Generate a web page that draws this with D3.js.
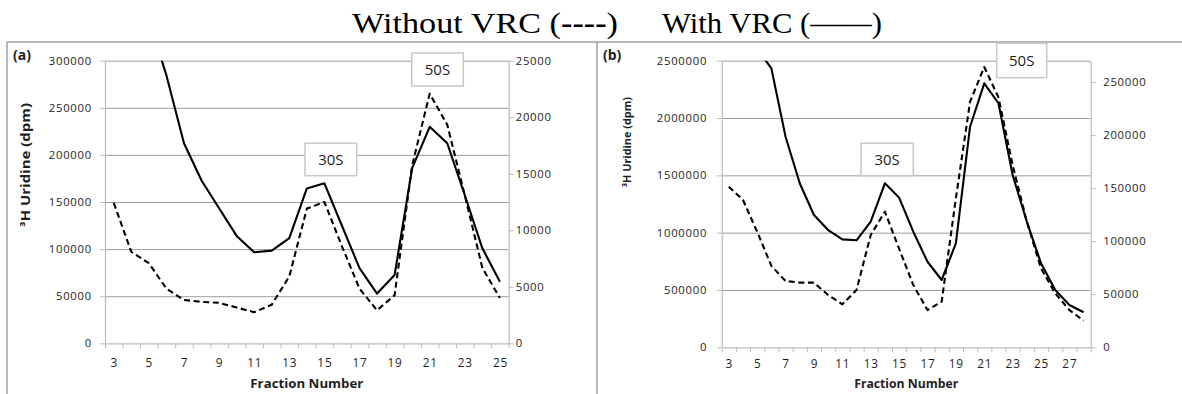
<!DOCTYPE html>
<html><head><meta charset="utf-8">
<script src="https://cdn.jsdelivr.net/npm/d3@7"></script>
<style>
body{margin:0;background:#fff}
svg{display:block}
</style></head><body>
<svg id="chart" width="1182" height="394"></svg>
<script>
// ---------- data ----------
const fractionsA = [3,4,5,6,7,8,9,10,11,12,13,14,15,16,17,18,19,20,21,22,23,24,25];
const withoutVrcA = [149000,97000,85000,58000,46000,44000,43000,38000,33000,41000,71000,143000,150000,103000,58000,35000,51000,189000,265000,232000,157000,80000,48000];
const withVrcA = [null,null,28700,23700,17700,14400,11950,9500,8050,8200,9300,13700,14150,10400,6650,4400,6050,15500,19150,17700,13100,8400,5450];
const leftTicksA = [0,50000,100000,150000,200000,250000,300000];
const rightTicksA = [0,5000,10000,15000,20000,25000];
const xLabelsA = [3,5,7,9,11,13,15,17,19,21,23,25];

const fractionsB = [3,4,5,6,7,8,9,10,11,12,13,14,15,16,17,18,19,20,21,22,23,24,25,26,27,28];
const withoutVrcB = [1401000,1285000,1008000,710000,578000,564000,564000,456000,375000,500000,980000,1183000,860000,543000,325000,398000,1300000,2142000,2445000,2180000,1590000,1096000,689000,471000,325000,232000];
const withVrcB = [null,null,281000,262800,198400,154500,124600,110500,101700,100800,118300,154500,141000,108900,80600,63400,98000,207800,248700,229900,162300,118300,79100,54000,39900,33000];
const leftTicksB = [0,500000,1000000,1500000,2000000,2500000];
const rightTicksB = [0,50000,100000,150000,200000,250000];
const xLabelsB = [3,5,7,9,11,13,15,17,19,21,23,25,27];

const peakNames = ["30S","50S"];
const titleParts = ["Without VRC (", "----", ")", "With VRC (——)"];
const yTitle = "³H Uridine (dpm)";
const xTitle = "Fraction Number";
const panelTags = ["(a)","(b)"];

// ---------- drawing ----------
const svg = d3.select("#chart");
const FONT = "'Open Sans', 'Liberation Sans', sans-serif";
const GRID = "#9d9d9d", AXIS = "#bcbcbc", TXT = "#1e1e1e";

// frame lines
svg.append("line").attr("x1",7).attr("x2",1182).attr("y1",42).attr("y2",42).attr("stroke","#a0a0a0").attr("stroke-width",1.5);
svg.append("line").attr("x1",7).attr("x2",7).attr("y1",42).attr("y2",394).attr("stroke","#a0a0a0").attr("stroke-width",1.5);
svg.append("line").attr("x1",597).attr("x2",597).attr("y1",42).attr("y2",394).attr("stroke","#a0a0a0").attr("stroke-width",1.5);

// title
const t1 = svg.append("text").attr("x",352).attr("y",33)
  .attr("font-family","'Liberation Serif','Times New Roman',serif").attr("font-size",29).attr("fill","#000")
  .attr("textLength",266).attr("lengthAdjust","spacingAndGlyphs");
t1.append("tspan").text(titleParts[0]);
t1.append("tspan").attr("font-weight","bold").text(titleParts[1]);
t1.append("tspan").text(titleParts[2]);
svg.append("text").attr("x",662).attr("y",33)
  .attr("font-family","'Liberation Serif','Times New Roman',serif").attr("font-size",29).attr("fill","#000")
  .attr("textLength",220).attr("lengthAdjust","spacingAndGlyphs")
  .text(titleParts[3]);

function drawPanel(cfg){
  const g = svg.append("g");
  const fr = cfg.fractions;
  const x = d3.scaleLinear().domain([fr[0]-0.5, fr[fr.length-1]+0.5]).range([cfg.x0, cfg.x1]);
  const yL = d3.scaleLinear().domain([0, cfg.leftMax]).range([cfg.yBot, cfg.yTop]);
  const yR = d3.scaleLinear().domain([0, cfg.rightMax]).range([cfg.yBot, cfg.yTop]);
  const w = cfg.x1 - cfg.x0;

  // gridlines
  const grid = g.append("g").attr("transform",`translate(${cfg.x0},0)`)
    .call(d3.axisLeft(yL).tickValues(cfg.leftTicks.filter(v=>v>0)).tickSize(-w).tickFormat(""));
  grid.select(".domain").remove();
  grid.selectAll("line").attr("stroke",GRID).attr("stroke-width",1);

  // left axis
  const la = g.append("g").attr("transform",`translate(${cfg.x0},0)`)
    .call(d3.axisLeft(yL).tickValues(cfg.leftTicks).tickSize(5).tickPadding(cfg.lPad).tickFormat(d3.format("d")).tickSizeOuter(0));
  la.select(".domain").attr("stroke",AXIS).attr("stroke-width",1.2);
  la.selectAll("line").attr("stroke",AXIS);
  la.selectAll("text").attr("font-family",FONT).attr("font-size",11.3).attr("letter-spacing",0.75).attr("fill",TXT);

  // right axis
  const ra = g.append("g").attr("transform",`translate(${cfg.x1},0)`)
    .call(d3.axisRight(yR).tickValues(cfg.rightTicks).tickSize(5).tickPadding(cfg.rPad).tickFormat(d3.format("d")).tickSizeOuter(0));
  ra.select(".domain").attr("stroke",AXIS).attr("stroke-width",1.2);
  ra.selectAll("line").attr("stroke",AXIS);
  ra.selectAll("text").attr("font-family",FONT).attr("font-size",11.3).attr("letter-spacing",0.75).attr("fill",TXT);

  // bottom axis: tick marks at category boundaries
  const bounds = fr.map(f=>f-0.5).concat([fr[fr.length-1]+0.5]);
  const ba = g.append("g").attr("transform",`translate(0,${cfg.yBot})`)
    .call(d3.axisBottom(x).tickValues(bounds).tickSize(5).tickFormat("").tickSizeOuter(0));
  ba.select(".domain").attr("stroke",AXIS).attr("stroke-width",1.2);
  ba.selectAll("line").attr("stroke",AXIS);
  // bottom labels at category centres
  const bl = g.append("g").attr("transform",`translate(0,${cfg.yBot})`)
    .call(d3.axisBottom(x).tickValues(cfg.xLabels).tickSize(0).tickPadding(cfg.bPad).tickFormat(d3.format("d")));
  bl.select(".domain").remove();
  bl.selectAll("text").attr("font-family",FONT).attr("font-size",11.8).attr("letter-spacing",0.8).attr("fill",TXT);

  // clip
  const cid = "clip"+cfg.id;
  svg.append("clipPath").attr("id",cid).append("rect")
    .attr("x",cfg.x0).attr("y",cfg.yTop).attr("width",w).attr("height",cfg.yBot-cfg.yTop);

  const lineL = d3.line().defined(d=>d[1]!=null).x(d=>x(d[0])).y(d=>yL(d[1]));
  const lineR = d3.line().defined(d=>d[1]!=null).x(d=>x(d[0])).y(d=>yR(d[1]));
  const lines = g.append("g").attr("clip-path",`url(#${cid})`);
  lines.append("path").datum(fr.map((f,i)=>[f,cfg.without[i]])).attr("d",lineL)
    .attr("fill","none").attr("stroke","#000").attr("stroke-width",2.1).attr("stroke-dasharray","6,3.6").attr("stroke-linejoin","round");
  lines.append("path").datum(fr.map((f,i)=>[f,cfg.withV[i]])).attr("d",lineR)
    .attr("fill","none").attr("stroke","#000").attr("stroke-width",2.1).attr("stroke-linejoin","round");

  // peak boxes
  cfg.boxes.forEach((b,i)=>{
    g.append("rect").attr("x",b[0]).attr("y",b[1]).attr("width",b[2]).attr("height",b[3])
      .attr("fill","#fff").attr("stroke","#c8c8c8").attr("stroke-width",1.5);
    g.append("text").attr("x",b[0]+b[2]/2).attr("y",b[1]+b[3]/2).attr("dy","0.36em")
      .attr("text-anchor","middle").attr("font-family",FONT).attr("font-size",15).attr("fill",TXT)
      .text(peakNames[i]);
  });

  // titles
  g.append("text").attr("transform",`translate(${cfg.yTitleX},${cfg.yTitleY}) rotate(-90)`)
    .attr("text-anchor","middle").attr("dy","0.35em").attr("font-family",FONT).attr("font-weight","bold")
    .attr("font-size",cfg.yTitleSize).attr("textLength",cfg.yTitleLen).attr("lengthAdjust","spacingAndGlyphs").attr("fill",TXT)
    .text(yTitle);
  g.append("text").attr("x",(cfg.x0+cfg.x1)/2).attr("y",cfg.xTitleY).attr("dy","0.35em")
    .attr("text-anchor","middle").attr("font-family",FONT).attr("font-weight","bold")
    .attr("font-size",12).attr("textLength",cfg.xTitleLen).attr("lengthAdjust","spacingAndGlyphs").attr("fill",TXT)
    .text(xTitle);
  g.append("text").attr("x",cfg.tagX).attr("y",60).attr("font-family",FONT).attr("font-weight","bold")
    .attr("font-size",14).attr("fill",TXT).text(cfg.tag);
}

drawPanel({id:"A", fractions:fractionsA, without:withoutVrcA, withV:withVrcA,
  leftTicks:leftTicksA, rightTicks:rightTicksA, xLabels:xLabelsA,
  leftMax:300000, rightMax:25000,
  x0:105, x1:508.7, yTop:60.7, yBot:343.3, lPad:8, rPad:2, bPad:15,
  boxes:[[305,143.3,51.7,32.4],[411.7,53,51.6,33]],
  yTitleX:26, yTitleY:165, yTitleLen:124, yTitleSize:12, xTitleY:384, xTitleLen:113,
  tag:panelTags[0], tagX:13});

drawPanel({id:"B", fractions:fractionsB, without:withoutVrcB, withV:withVrcB,
  leftTicks:leftTicksB, rightTicks:rightTicksB, xLabels:xLabelsB,
  leftMax:2500000, rightMax:270000,
  x0:721.7, x1:1090.7, yTop:60.7, yBot:347.3, lPad:9.5, rPad:7.5, bPad:12,
  boxes:[[861,143.3,52.3,32.4],[996.7,43.3,50,34.4]],
  yTitleX:627, yTitleY:142, yTitleLen:90, yTitleSize:11, xTitleY:384, xTitleLen:104,
  tag:panelTags[1], tagX:603});
</script>
</body></html>
